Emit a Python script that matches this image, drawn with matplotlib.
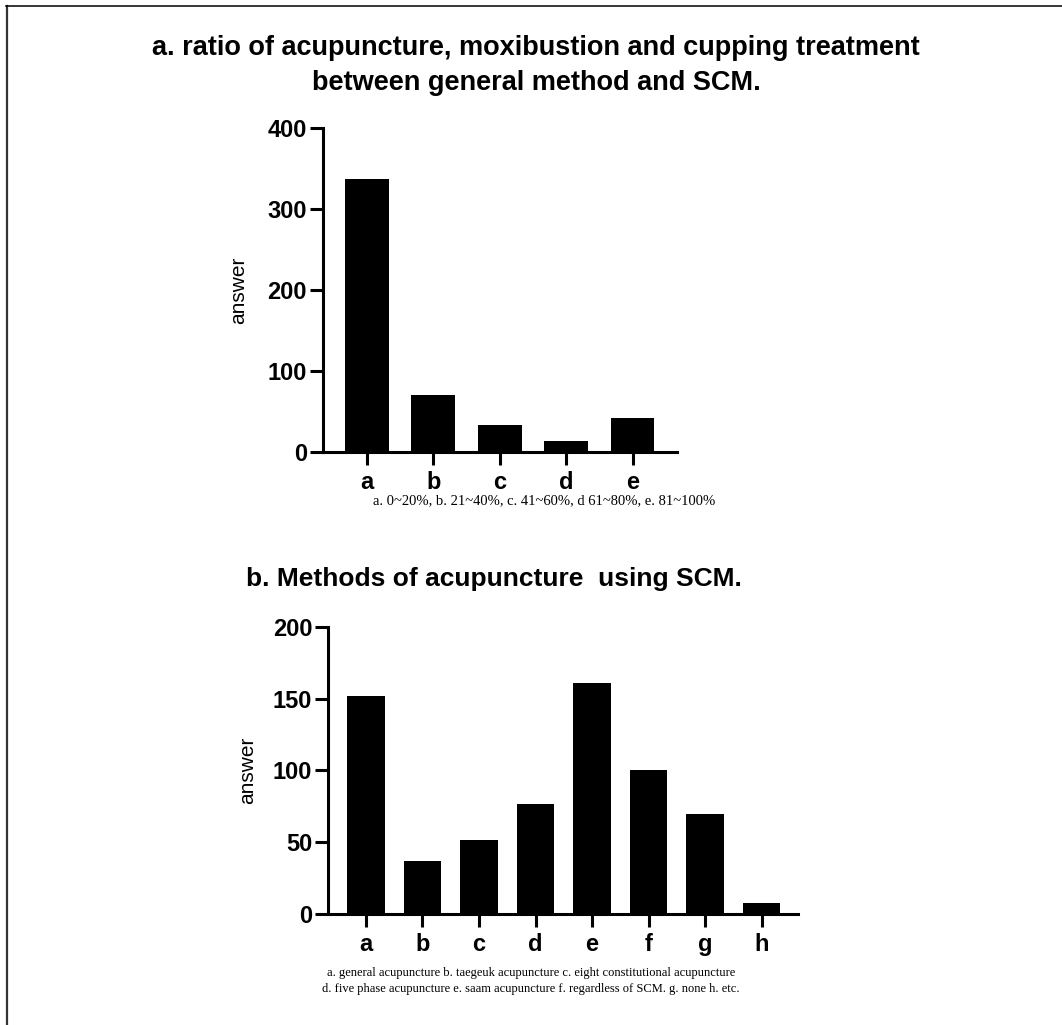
import matplotlib
matplotlib.use("Agg")
import matplotlib.pyplot as plt
from matplotlib.lines import Line2D

# data
cats_a = ["a", "b", "c", "d", "e"]
vals_a = [337, 70, 33, 14, 42]
cats_b = ["a", "b", "c", "d", "e", "f", "g", "h"]
vals_b = [152, 37, 52, 77, 161, 100, 70, 8]

title_a = "a. ratio of acupuncture, moxibustion and cupping treatment\nbetween general method and SCM."
title_b = "b. Methods of acupuncture  using SCM."
note_a = "a. 0~20%, b. 21~40%, c. 41~60%, d 61~80%, e. 81~100%"
note_b = ("a. general acupuncture b. taegeuk acupuncture c. eight constitutional acupuncture\n"
          "d. five phase acupuncture e. saam acupuncture f. regardless of SCM. g. none h. etc.")

plt.rcParams['font.family'] = ['Liberation Sans', 'DejaVu Sans']

fig = plt.figure(figsize=(10.62, 10.25), dpi=100)

def style(ax, ymax, step, lpad):
    ax.spines['top'].set_visible(False)
    ax.spines['right'].set_visible(False)
    ax.spines['left'].set_linewidth(2.2)
    ax.spines['bottom'].set_linewidth(2.2)
    ax.set_ylim(0, ymax)
    ax.set_yticks(range(0, ymax + 1, step))
    ax.tick_params(axis='both', width=2.2, length=9.5, labelsize=17, pad=2)
    ax.tick_params(axis='x', pad=4)
    for lab in ax.get_xticklabels() + ax.get_yticklabels():
        lab.set_fontweight('bold')
    ax.set_ylabel("answer", fontsize=15, labelpad=lpad)

# top chart
ax1 = fig.add_axes([0.3041, 0.559, 0.3334, 0.316])
x1 = range(len(vals_a))
ax1.bar(x1, vals_a, width=0.66, color='black')
ax1.set_xticks(list(x1))
ax1.set_xticklabels(cats_a)
ax1.set_xlim(-0.66, 4.67)
style(ax1, 400, 100, 14)

# bottom chart
ax2 = fig.add_axes([0.3091, 0.108, 0.4426, 0.2806])
x2 = range(len(vals_b))
ax2.bar(x2, vals_b, width=0.667, color='black')
ax2.set_xticks(list(x2))
ax2.set_xticklabels(cats_b)
ax2.set_xlim(-0.667, 7.65)
style(ax2, 200, 50, 11)

# titles and captions
fig.text(0.505, 0.936, title_a, ha='center', va='center', fontsize=19.5,
         fontweight='bold', linespacing=1.45)
fig.text(0.465, 0.435, title_b, ha='center', va='center', fontsize=19,
         fontweight='bold')
fig.text(0.512, 0.512, note_a, ha='center', va='center', fontsize=10.5,
         family='Liberation Serif')
fig.text(0.5, 0.043, note_b, ha='center', va='center', fontsize=9,
         family='Liberation Serif', linespacing=1.5)

# frame lines
fig.add_artist(Line2D([6.5 / 1062, 6.5 / 1062], [0, 1 - 6 / 1025], color='#333333', lw=1.6))
fig.add_artist(Line2D([6 / 1062, 1], [1 - 6 / 1025, 1 - 6 / 1025], color='black', lw=1.1))

fig.savefig("out.png", dpi=100)
